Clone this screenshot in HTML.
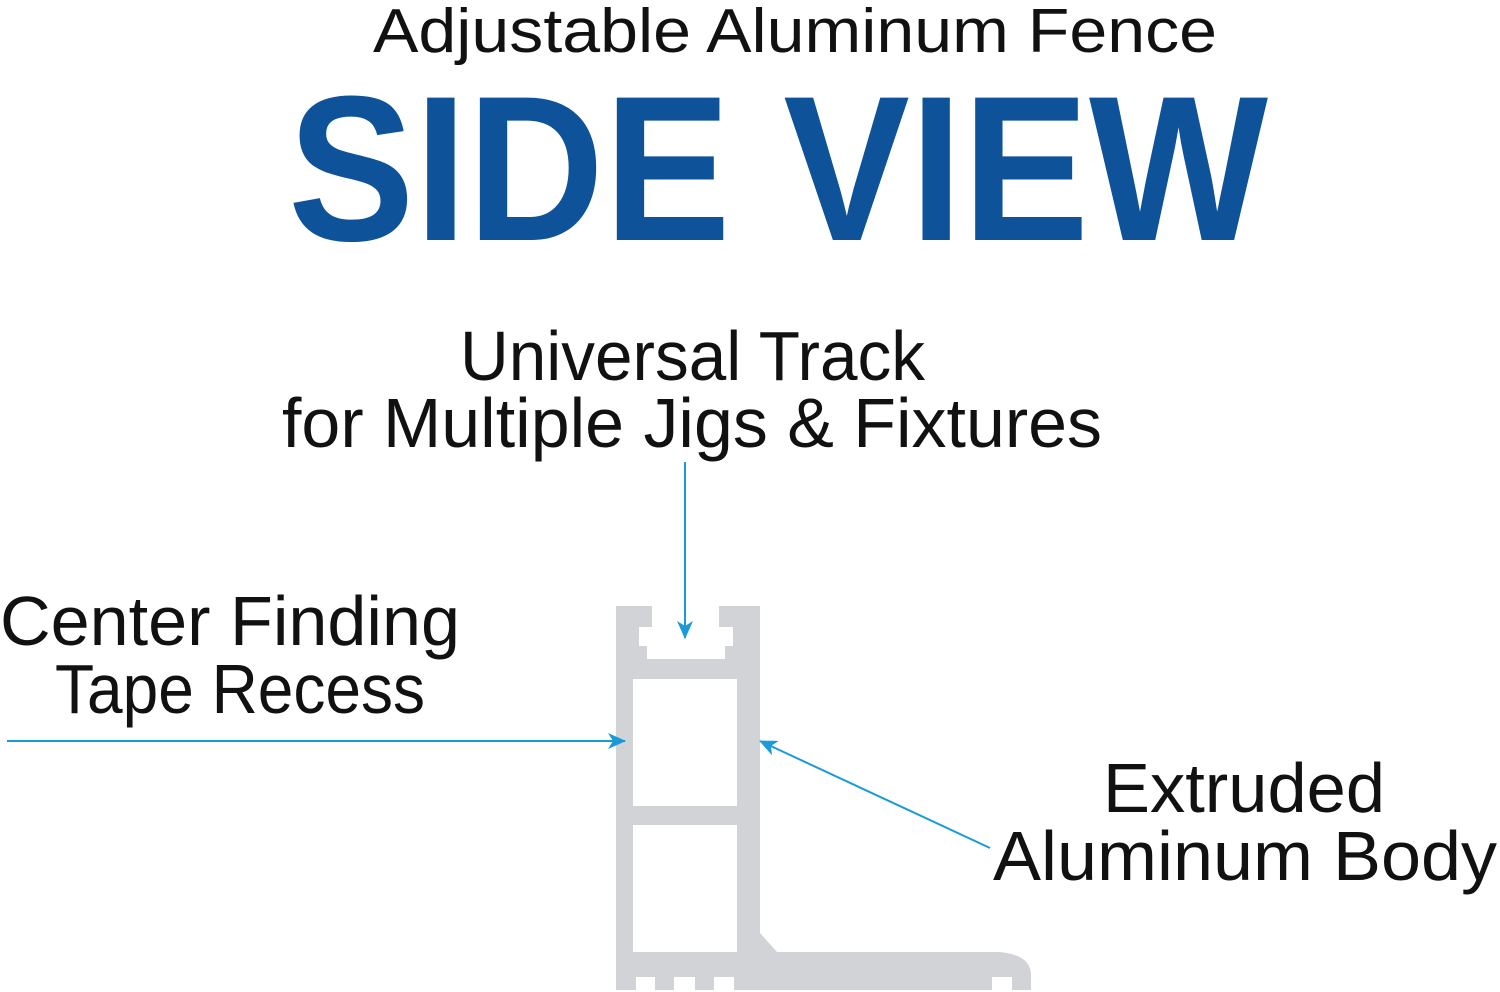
<!DOCTYPE html>
<html><head><style>html,body{margin:0;padding:0;background:#fff}svg{display:block}</style></head>
<body>
<svg width="1500" height="992" viewBox="0 0 1500 992" xmlns="http://www.w3.org/2000/svg" font-family="Liberation Sans, sans-serif">
<defs>
<marker id="a" markerWidth="18" markerHeight="16" refX="17" refY="8" orient="auto" markerUnits="userSpaceOnUse">
<path d="M0,0 L18,8 L0,16 L5,8 Z" fill="#1a9ad6"/>
</marker>
</defs>
<text x="373" y="52" font-size="62" textLength="844" lengthAdjust="spacingAndGlyphs" fill="#111">Adjustable Aluminum Fence</text>
<text x="288" y="240" font-size="207" font-weight="bold" textLength="980" lengthAdjust="spacingAndGlyphs" fill="#0e529a">SIDE VIEW</text>
<text x="460" y="380" font-size="70" textLength="465" lengthAdjust="spacingAndGlyphs" fill="#111">Universal Track</text>
<text x="282" y="447" font-size="70" textLength="820" lengthAdjust="spacingAndGlyphs" fill="#111">for Multiple Jigs &amp; Fixtures</text>
<text x="0" y="645" font-size="70" textLength="460" lengthAdjust="spacingAndGlyphs" fill="#111">Center Finding</text>
<text x="55" y="713" font-size="70" textLength="370" lengthAdjust="spacingAndGlyphs" fill="#111">Tape Recess</text>
<text x="1103" y="812" font-size="70" textLength="282" lengthAdjust="spacingAndGlyphs" fill="#111">Extruded</text>
<text x="993" y="880" font-size="70" textLength="504" lengthAdjust="spacingAndGlyphs" fill="#111">Aluminum Body</text>
<path fill="#d1d3d6" fill-rule="evenodd" d="M616,606 H652 V627 H639 V646 H647 V659 H725 V646 H733 V627 H719 V606 H760 V933 L777,952 H1000 Q1031,955 1031,975 V990 H1012 V977 H992 V990 H734 V977 H714 V990 H695 V977 H674 V990 H655 V977 H636 V990 H616 Z
M633,679 H737 V806 H633 Z M633,825 H737 V952 H633 Z"/>
<line x1="685" y1="462" x2="685" y2="638" stroke="#1a9ad6" stroke-width="2" marker-end="url(#a)"/>
<line x1="7" y1="741" x2="625" y2="741" stroke="#1a9ad6" stroke-width="2" marker-end="url(#a)"/>
<line x1="990" y1="848" x2="760" y2="741" stroke="#1a9ad6" stroke-width="2" marker-end="url(#a)"/>
</svg>
</body></html>
